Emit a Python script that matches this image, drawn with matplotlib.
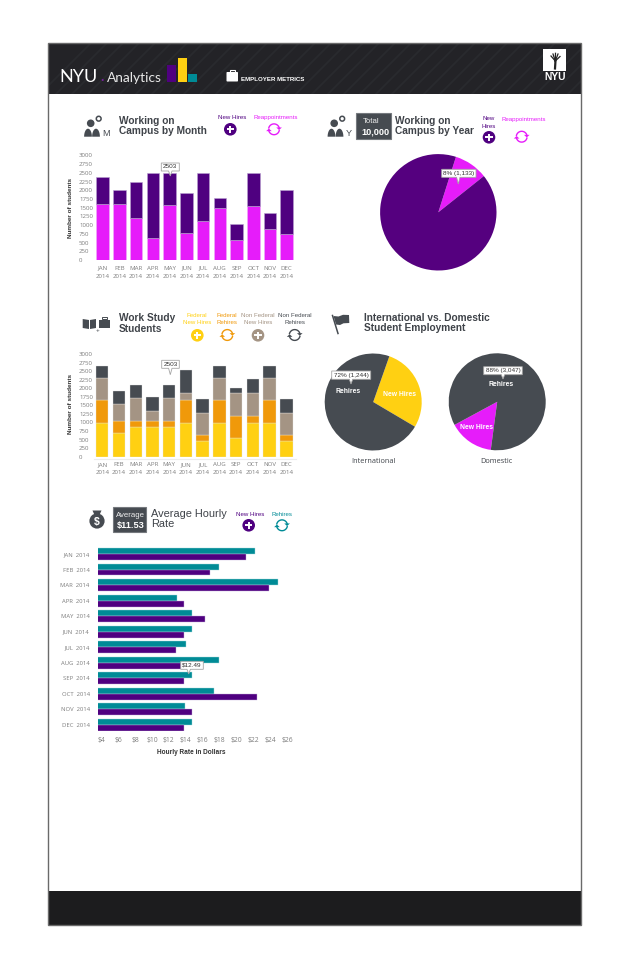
import numpy as np
import matplotlib
matplotlib.use("Agg")
import matplotlib.pyplot as plt
from matplotlib.patches import Rectangle, Circle, Polygon, FancyBboxPatch

months = ["JAN", "FEB", "MAR", "APR", "MAY", "JUN", "JUL", "AUG", "SEP", "OCT", "NOV", "DEC"]

# working on campus by month
reappointments = [1595, 1595, 1194, 620, 1576, 783, 1118, 1480, 573, 1548, 898, 735]
new_hires = [785, 420, 1032, 1883, 927, 1147, 1385, 306, 468, 955, 439, 1280]

# work study
federal_new = [993, 692, 877, 877, 877, 993, 468, 993, 545, 993, 993, 468]
federal_rehire = [662, 360, 175, 175, 175, 662, 175, 662, 653, 205, 662, 175]
nonfed_new = [653, 477, 653, 292, 653, 214, 643, 653, 672, 672, 653, 643]
nonfed_rehire = [331, 399, 380, 399, 380, 653, 399, 331, 127, 399, 331, 399]

# hourly rate
rate_rehires = [22.18, 17.9, 24.95, 13.0, 14.8, 14.8, 14.0, 17.9, 14.8, 17.3, 13.9, 14.8]
rate_new = [21.15, 16.85, 23.9, 13.8, 16.25, 13.8, 12.9, 13.8, 13.8, 22.4, 14.8, 13.8]
rate_ticks = [4, 6, 8, 10, 12, 14, 16, 18, 20, 22, 24, 26]

# pies, shares as drawn
year_share = [9.4, 90.6]
intl_share = [28.1, 71.9]
dom_share = [15, 85]

count_ticks = list(range(0, 3001, 250))

PURPLE = "#4f0080"
MAGENTA = "#e61cfa"
TEAL = "#008b96"
YELLOW = "#ffd012"
ORANGE = "#f0990a"
TAN = "#a49484"
DARK = "#464b51"
TITLE = "#3f4349"
GRAY = "#7d7d7d"
HEAD = "#232327"
FOOT = "#1c1c1e"
SANS = "Liberation Sans"
WIDE = "Open Sans"

W, H = 640, 980
fig = plt.figure(figsize=(W / 100, H / 100), dpi=100, facecolor="white")


def px_axes(x0, y0, x1, y1):
    # axes from pixel box, y going down
    a = fig.add_axes([x0 / W, 1 - y1 / H, (x1 - x0) / W, (y1 - y0) / H])
    a.patch.set_visible(False)
    return a


def clean(a):
    for s in a.spines.values():
        s.set_visible(False)
    a.tick_params(length=0)


def month_axes(y0_px, y3000_px, first_px, ylabel_y):
    L, R = 94, 296
    step = 16.73
    a = px_axes(L, y3000_px, R, y0_px)
    a.set_xlim((L - first_px) / step, (R - first_px) / step)
    a.set_ylim(0, 3000)
    clean(a)
    a.set_xticks(range(12))
    a.set_xticklabels([m + "\n2014" for m in months], fontsize=4.4, color=GRAY,
                      family=WIDE, linespacing=1.75)
    a.tick_params(axis="x", pad=4)
    a.set_yticks(count_ticks)
    a.set_yticklabels([str(t) for t in count_ticks], fontsize=4.4, color=GRAY, family=WIDE, ha="left")
    a.tick_params(axis="y", pad=10.8)
    a.text(71, ylabel_y, "Number of students", transform=top_trans, rotation=90, ha="center", va="center",
           fontsize=4.6, fontweight="bold", color="#333333", family=SANS)
    return a


# overlay for everything that is not a chart
top = px_axes(0, 0, W, H)
top.set_xlim(0, W)
top.set_ylim(H, 0)
top.axis("off")
top.set_zorder(5)
top_trans = top.transData

# card, header, footer
head = Rectangle((47.5, 44), 533.5, 50, fc=HEAD, ec="none", zorder=0.2)
top.add_patch(head)
for sx in np.arange(40, 640, 16):
    ln, = top.plot([sx, sx + 50], [94, 44], color="#292a2e", lw=1.4, zorder=0.3)
    ln.set_clip_path(head)
top.add_patch(Rectangle((47.5, 891), 533.5, 34, fc=FOOT, ec="none", zorder=0.2))
top.add_patch(Rectangle((47.5, 43.5), 533.5, 881.5, fc="none", ec="#6a6a6a", lw=1.0, zorder=0.4))

# logo
top.text(59.5, 81.7, "NYU", color="white", fontsize=13, family="Lato", va="baseline")
top.add_patch(Circle((102.7, 80), 1, fc="#7a1fa0", ec="none"))
top.text(106.5, 81.7, "Analytics", color="#e8e8e8", fontsize=9.9, family="Lato", va="baseline")
top.add_patch(Rectangle((167, 65.3), 8.7, 17, fc=PURPLE, ec="none"))
top.add_patch(Rectangle((178.3, 58), 8.7, 24.3, fc=YELLOW, ec="none"))
top.add_patch(Rectangle((188, 74), 9, 8.3, fc=TEAL, ec="none"))

# briefcase and employer metrics
top.add_patch(FancyBboxPatch((226.5, 72), 11.5, 9.5, boxstyle="round,pad=0,rounding_size=0.8", fc="white", ec="none"))
top.add_patch(Rectangle((229.5, 70.3), 5.5, 2.2, fc="none", ec="white", lw=0.8))
top.text(241, 81, "EMPLOYER METRICS", color="white", fontsize=4.4, fontweight="bold", family=SANS, va="baseline")

# nyu mark
top.add_patch(Rectangle((543.3, 49), 22.7, 21.7, fc="white", ec="none"))
top.plot([555, 555.5], [68.5, 60.5], color="#222222", lw=1.6)
for ex, ey in [(551, 56), (553, 54), (555.5, 53.3), (558, 54), (560, 56.5)]:
    top.plot([555.3, ex], [61, ey], color="#222222", lw=0.9)
top.text(554.7, 77, "NYU", color="white", fontsize=7.4, fontweight="bold", family=SANS, ha="center", va="center")


def title(x, y1, lines, gap=10.2, size=7.3, weight="bold"):
    for i, s in enumerate(lines):
        top.text(x, y1 + i * gap, s, fontsize=size, fontweight=weight, color=TITLE, family=SANS,
                 ha="left", va="center")


def legend_text(x, y, lines, color, gap=7.7):
    for i, s in enumerate(lines):
        top.text(x, y + i * gap, s, fontsize=4.4, color=color, family=SANS, ha="center", va="center")


def plus_icon(x, y, color):
    top.add_patch(Circle((x, y), 6.3, fc=color, ec="none"))
    top.plot([x - 3.6, x + 3.6], [y, y], color="white", lw=1.4, solid_capstyle="butt")
    top.plot([x, x], [y - 3.6, y + 3.6], color="white", lw=1.4, solid_capstyle="butt")


def refresh_icon(x, y, color):
    r = 5.4
    for a0, a1, sgn in [(165, 20, 1), (-15, -160, -1)]:
        t = np.radians(np.linspace(a0, a1, 30))
        top.plot(x + r * np.cos(t), y - r * np.sin(t), color=color, lw=1.0)
        ex, ey = x + r * np.cos(t[-1]), y - r * np.sin(t[-1])
        top.add_patch(Polygon([(ex - 2.8, ey), (ex + 2.8, ey), (ex, ey + 2.6 * sgn)], fc=color, ec="none"))


def people_icon(x, y):
    top.add_patch(Circle((x + 6.7, y + 5.3), 3.8, fc=DARK, ec="none"))
    top.add_patch(Circle((x + 14.7, y + 0.7), 2.4, fc="white", ec=DARK, lw=1.1))
    t = np.linspace(0, np.pi, 24)
    for cx in (x + 4, x + 12):
        pts = np.column_stack([cx + 3.9 * np.cos(t), y + 18.7 - 8 * np.sin(t)])
        top.add_patch(Polygon(pts, fc=DARK, ec="none"))


def stat_box(x0, y0, x1, y1, small, big, small_x, big_x):
    top.add_patch(Rectangle((x0, y0), x1 - x0, y1 - y0, fc=DARK, ec="#75797e", lw=0.8))
    top.text(small_x, y0 + 8.6, small, color="#eeeeee", fontsize=5.6, family=SANS, ha="center", va="center")
    top.text(big_x, y0 + 18.3, big, color="white", fontsize=6.6, fontweight="bold", family=SANS, ha="center", va="center")


def tooltip(x0, y0, x1, y1, tip_x, tip_y, s):
    pts = [(x0, y0), (x1, y0), (x1, y1), (tip_x + 1.7, y1), (tip_x, tip_y), (tip_x - 1.7, y1), (x0, y1)]
    top.add_patch(Polygon(pts, fc="white", ec="#a5a5a5", lw=0.6, zorder=8))
    top.text((x0 + x1) / 2, (y0 + y1) / 2, s, fontsize=4.6, color="#333333", family=SANS, ha="center",
             va="center", zorder=9)


# section headers
people_icon(84, 118)
top.text(106, 133, "M", fontsize=6.6, color=DARK, family=SANS, ha="center", va="center")
title(119, 121.3, ["Working on", "Campus by Month"])
legend_text(232, 117.7, ["New Hires"], PURPLE)
plus_icon(230.3, 129.3, PURPLE)
legend_text(275.7, 117.7, ["Reappointments"], MAGENTA)
refresh_icon(274, 129.3, MAGENTA)

people_icon(327.5, 118)
top.text(349.3, 133, "Y", fontsize=6.6, color=DARK, family=SANS, ha="center", va="center")
stat_box(356, 113.3, 390.7, 139.3, "Total", "10,000", 370.7, 375)
title(394.7, 121.3, ["Working on", "Campus by Year"])
legend_text(488.3, 119, ["New", "Hires"], PURPLE)
plus_icon(489, 137.3, PURPLE)
legend_text(523.7, 119, ["Reappointments"], MAGENTA)
refresh_icon(521.7, 136.7, MAGENTA)

# book + briefcase
top.add_patch(Polygon([(82.7, 319), (89, 320), (89, 329), (82.7, 328)], fc=DARK, ec="none"))
top.add_patch(Polygon([(90, 320), (96, 319), (96, 328), (90, 329)], fc=DARK, ec="none"))
top.add_patch(Rectangle((98.7, 319.5), 11.3, 8.5, fc=DARK, ec="none"))
top.add_patch(Rectangle((102, 317.3), 4.6, 2.2, fc="none", ec=DARK, lw=0.7))
top.text(97.5, 330.5, "+", fontsize=4.5, color=DARK, family=SANS, ha="center", va="center")
title(119, 318, ["Work Study", "Students"], gap=10.6)
legend_text(197.3, 315, ["Federal", "New Hires"], YELLOW)
plus_icon(197.3, 335.3, YELLOW)
legend_text(227.3, 315, ["Federal", "Rehires"], ORANGE)
refresh_icon(227.3, 335, ORANGE)
legend_text(258, 315, ["Non Federal", "New Hires"], TAN)
plus_icon(258, 335.3, TAN)
legend_text(294.7, 315, ["Non Federal", "Rehires"], DARK)
refresh_icon(294.7, 335, DARK)

# flag
top.plot([332.5, 338], [315.5, 333.5], color=DARK, lw=1.1)
top.add_patch(Polygon([(333.5, 316), (338.5, 316.5), (343, 314.8), (349, 315), (349.3, 323),
                       (343.5, 323.3), (340, 325), (336, 324.5)], fc=DARK, ec="none"))
title(363.7, 318, ["International vs. Domestic", "Student Employment"])

# money bag
top.add_patch(Circle((97, 521), 7.6, fc=DARK, ec="none"))
top.add_patch(Polygon([(92.5, 510.5), (101.5, 510.5), (99.5, 515), (94.5, 515)], fc=DARK, ec="none"))
top.text(97, 521.5, "$", fontsize=7.5, fontweight="bold", color="white", family=SANS, ha="center", va="center")
stat_box(113.3, 506.7, 146.3, 532.3, "Average", "$11.53", 130.7, 130.7)
title(151, 514, ["Average Hourly", "Rate"], gap=10.3, size=7.9, weight="normal")
legend_text(250, 514, ["New Hires"], PURPLE)
plus_icon(248.7, 525.3, PURPLE)
legend_text(282, 514, ["Rehires"], TEAL)
refresh_icon(282, 525.3, TEAL)

# month chart
ax1 = month_axes(260, 155.4, 102.7, 207.7)
ax1.bar(range(12), reappointments, width=0.75, color=MAGENTA, edgecolor="#eeb0f8", linewidth=0.4)
ax1.bar(range(12), new_hires, width=0.75, bottom=reappointments, color=PURPLE, edgecolor="#b9a0d0", linewidth=0.4)
tooltip(161.3, 163, 179.3, 171, 170.3, 176, "2503")

# work study chart
ax2 = month_axes(456.7, 354, 102.3, 404)
stack = np.zeros(12)
for vals, col in [(federal_new, YELLOW), (federal_rehire, ORANGE), (nonfed_new, TAN), (nonfed_rehire, DARK)]:
    ax2.bar(range(12), vals, width=0.74, bottom=stack, color=col, edgecolor="#e6e6e6", linewidth=0.25)
    stack = stack + np.array(vals)
top.plot([94, 296], [459, 459], color="#ececec", lw=0.8)
tooltip(161.7, 360.3, 179.3, 368.3, 170.3, 374.7, "2503")

# hourly rate chart
ax3 = px_axes(98, 545, 295, 731)
ax3.set_xlim(3.61, 26.95)
ax3.set_ylim((731 - 554) / 15.52, (545 - 554) / 15.52)
clean(ax3)
pos = np.arange(12)
ax3.barh(pos - 0.1925, rate_rehires, height=0.385, color=TEAL, edgecolor="#a8dadd", linewidth=0.3)
ax3.barh(pos + 0.1925, rate_new, height=0.385, color=PURPLE, edgecolor="#c4aedb", linewidth=0.3)
ax3.set_xticks(rate_ticks)
ax3.set_xticklabels(["$" + str(v) for v in rate_ticks], fontsize=4.9, color=GRAY, family=WIDE)
ax3.tick_params(axis="x", pad=4.2)
ax3.set_yticks(pos)
ax3.set_yticklabels([m + "  2014" for m in months], fontsize=4.2, color=GRAY, family=WIDE)
ax3.tick_params(axis="y", pad=6)
top.text(191, 752.3, "Hourly Rate in Dollars", fontsize=4.7, fontweight="bold", color="#333333", family=SANS,
         ha="center", va="center")
tooltip(180.7, 661.3, 203.3, 669.3, 188.7, 674, "$12.49")


def pie_axes(cx, cy, r, shares, cols, start):
    a = px_axes(cx - r - 1, cy - r - 1, cx + r + 1, cy + r + 1)
    a.pie(shares, colors=cols, startangle=start, radius=1, counterclock=True,
          wedgeprops={"linewidth": 0})
    a.set_xlim(-(r + 1) / r, (r + 1) / r)
    a.set_ylim(-(r + 1) / r, (r + 1) / r)
    return a


pie_axes(438.3, 212.3, 58.2, year_share, [MAGENTA, "#55007f"], 38.5)
tooltip(441.7, 169.3, 476, 177.3, 458.3, 184, "8% (1,133)")

pie_axes(373.2, 402, 48.5, intl_share, [YELLOW, DARK], -30.6)
tooltip(331.7, 371, 370.7, 379.3, 351, 384, "72% (1,244)")
top.text(348.3, 391, "Rehires", fontsize=4.9, fontweight="bold", color="white", family=SANS, ha="center", va="center")
top.text(399.3, 394, "New Hires", fontsize=4.9, fontweight="bold", color="white", family=SANS, ha="center", va="center")
top.text(373.3, 461, "International", fontsize=5.3, color=TITLE, family=WIDE, ha="center", va="center")

pie_axes(497.2, 401.8, 48.5, dom_share, [MAGENTA, DARK], 208.4)
tooltip(483.7, 366.7, 522.3, 374.7, 503, 379, "88% (3,047)")
top.text(501.3, 384.7, "Rehires", fontsize=4.9, fontweight="bold", color="white", family=SANS, ha="center", va="center")
top.text(476.3, 427, "New Hires", fontsize=4.9, fontweight="bold", color="white", family=SANS, ha="center", va="center")
top.text(496.3, 461, "Domestic", fontsize=5.3, color=TITLE, family=WIDE, ha="center", va="center")

fig.savefig("out.png", dpi=100, facecolor="white")
